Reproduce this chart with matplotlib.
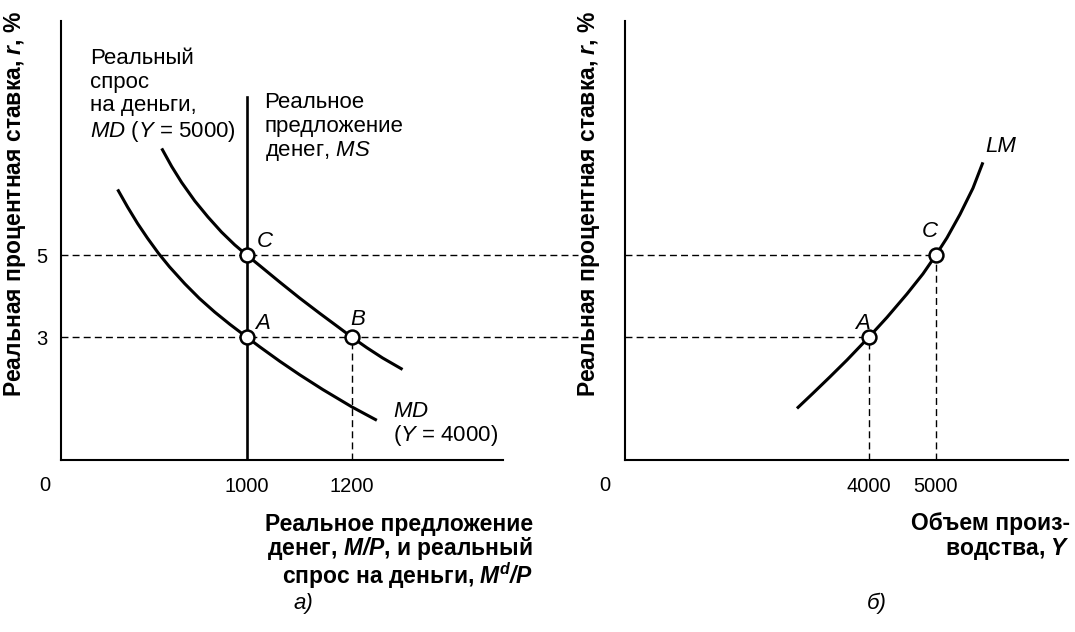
import matplotlib
matplotlib.use("Agg")
import matplotlib.pyplot as plt

plt.rcParams["font.family"] = ["Liberation Sans", "DejaVu Sans"]
plt.rcParams["mathtext.fontset"] = "custom"
plt.rcParams["mathtext.rm"] = "Liberation Sans"
plt.rcParams["mathtext.it"] = "Liberation Sans:italic"
plt.rcParams["mathtext.bf"] = "Liberation Sans:bold"
plt.rcParams["mathtext.bfit"] = "Liberation Sans:bold:italic"

md5000_m = [838, 857, 876, 901, 926, 952, 977, 1000, 1025, 1063, 1101,
            1139, 1177, 1200, 1229, 1259, 1297]
md5000_r = [7.60, 7.16, 6.77, 6.32, 5.93, 5.56, 5.25, 5.0, 4.74, 4.34, 3.95,
            3.58, 3.22, 3.0, 2.74, 2.49, 2.21]
md4000_m = [754, 773, 792, 811, 832, 853, 882, 910, 939, 968, 1000,
            1025, 1063, 1101, 1145, 1200, 1248]
md4000_r = [6.60, 6.17, 5.77, 5.41, 5.04, 4.71, 4.30, 3.94, 3.61, 3.31, 3.0,
            2.76, 2.41, 2.08, 1.72, 1.30, 0.97]
ms_level = 1000
ms_top = 8.85

# LM curve (output, interest rate)
lm_y = [2925, 3164, 3418, 3672, 4000, 4269, 4567, 4806, 5000, 5165, 5359,
        5553, 5702]
lm_r = [1.26, 1.63, 2.03, 2.44, 3.0, 3.48, 4.05, 4.54, 5.0, 5.42, 5.99,
        6.63, 7.26]

# equilibrium points
pts_a_m = [1000, 1000, 1200]
pts_a_r = [5, 3, 3]
pts_a_lab = ["C", "A", "B"]
pts_b_y = [5000, 4000]
pts_b_r = [5, 3]
pts_b_lab = ["C", "A"]

rates = [3, 5]
m_ticks = [1000, 1200]
y_ticks = [4000, 5000]

FS = 16       # annotations
FT = 14.5     # tick labels
FB = 16.5     # bold axis titles
ylab = "Реальная процентная ставка, $\\mathbfit{r}$, %"
xlab_a = ["Реальное предложение",
          "денег, $\\mathbfit{M/P}$, и реальный",
          "спрос на деньги, $\\mathbfit{M}^{\\mathbfit{d}}\\mathbfit{/P}$"]
xlab_b = ["Объем произ-", "водства, $\\mathbfit{Y}$"]

fig = plt.figure(figsize=(10.75, 6.32), dpi=100)
ax1 = fig.add_axes([0.0567, 0.272, 0.411, 0.695])
ax2 = fig.add_axes([0.5814, 0.272, 0.412, 0.695])

curve = dict(color="black", lw=2.2, solid_capstyle="butt")
dash = dict(color="black", lw=1.0, linestyle=(0, (5, 3)))
mk = dict(marker="o", ms=10, mfc="white", mec="black", mew=1.8, ls="none", zorder=5)

for ax in (ax1, ax2):
    for s in ("top", "right"):
        ax.spines[s].set_visible(False)
    for s in ("left", "bottom"):
        ax.spines[s].set_linewidth(1.5)
    ax.set_ylim(0, 10.71)
    ax.tick_params(length=0, labelsize=FT)
    ax.tick_params(axis="x", pad=12)
    ax.tick_params(axis="y", pad=10)
    ax.set_ylabel(ylab, fontsize=FB, fontweight="bold")

# --- panel a
ax1.set_xlim(646, 1488)
for r in rates:
    ax1.plot([646, 1631], [r, r], clip_on=False, **dash)
ax1.plot([1200, 1200], [0, 3], **dash)
ax1.plot([ms_level, ms_level], [0, ms_top], color="black", lw=1.9)
ax1.plot(md5000_m, md5000_r, **curve)
ax1.plot(md4000_m, md4000_r, **curve)
ax1.plot(pts_a_m, pts_a_r, **mk)
offs = {"C": (34, 0.34), "A": (30, 0.34), "B": (12, 0.42)}
for m, r, lab in zip(pts_a_m, pts_a_r, pts_a_lab):
    dx, dy = offs[lab]
    ax1.text(m + dx, r + dy, lab, fontsize=FS, style="italic", ha="center", va="center")
ax1.set_xticks(m_ticks)
ax1.set_xticklabels([str(v) for v in m_ticks])
ax1.set_yticks(rates)
ax1.set_yticklabels([str(v) for v in rates])
ax1.yaxis.set_label_coords(-0.075, 0.583)

ax1.text(701, 10.05, "Реальный\nспрос\nна деньги,\n$MD$ ($Y$ = 5000)",
         fontsize=FS, ha="left", va="top", linespacing=1.17)
ax1.text(1034, 8.98, "Реальное\nпредложение\nденег, $MS$",
         fontsize=FS, ha="left", va="top", linespacing=1.17)
ax1.text(1278, 1.45, "$MD$\n($Y$ = 4000)", fontsize=FS, ha="left", va="top",
         linespacing=1.05)
for line, yb in zip(xlab_a, [-0.1617, -0.2164, -0.2816]):
    ax1.text(1.068, yb, line, transform=ax1.transAxes, fontsize=FB,
             fontweight="bold", ha="right", va="baseline")
ax1.text(-0.036, -0.057, "0", transform=ax1.transAxes, fontsize=FT,
         ha="center", va="center")

# --- panel b
ax2.set_xlim(357, 6971)
for y, r in zip(pts_b_y, pts_b_r):
    ax2.plot([357, y], [r, r], **dash)
    ax2.plot([y, y], [0, r], **dash)
ax2.plot(lm_y, lm_r, **curve)
ax2.plot(pts_b_y, pts_b_r, **mk)
for y, r, lab in zip(pts_b_y, pts_b_r, pts_b_lab):
    ax2.text(y - 90, r + (0.57 if lab == "C" else 0.34), lab, fontsize=FS,
             style="italic", ha="center", va="center")
ax2.text(5970, 7.65, "LM", fontsize=FS, style="italic", ha="center", va="center")
ax2.set_xticks(y_ticks)
ax2.set_xticklabels([str(v) for v in y_ticks])
ax2.set_yticks([])
ax2.yaxis.set_label_coords(-0.052, 0.583)
for line, yb in zip(xlab_b, [-0.1594, -0.2164]):
    ax2.text(1.0045, yb, line, transform=ax2.transAxes, fontsize=FB,
             fontweight="bold", ha="right", va="baseline")
ax2.text(-0.045, -0.057, "0", transform=ax2.transAxes, fontsize=FT,
         ha="center", va="center")

fig.text(303 / 1075, 1 - 603 / 632, "а)", fontsize=FS, style="italic",
         ha="center", va="center")
fig.text(877 / 1075, 1 - 603 / 632, "б)", fontsize=FS, style="italic",
         ha="center", va="center")

fig.savefig("out.png", dpi=100)
